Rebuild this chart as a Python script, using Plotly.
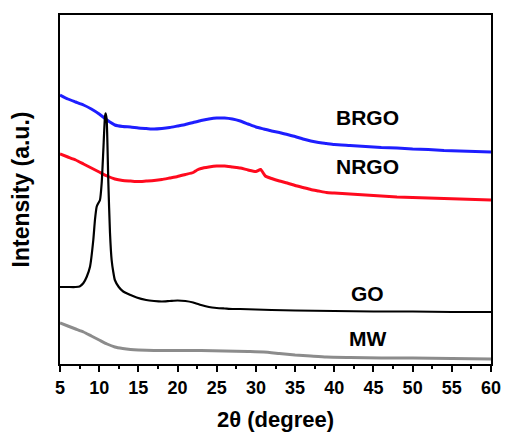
import plotly.graph_objects as go

# XRD patterns (2θ in degrees, intensity in arbitrary units, curves stacked)
brgo_x = [5, 6, 7, 8, 9, 10, 11, 12, 13, 14, 15, 16, 17, 18, 19, 20, 21, 22, 23, 24,
          25, 26, 27, 28, 29, 30, 31, 32, 33, 34, 35, 36, 37, 38, 39, 40, 42, 44, 46,
          48, 50, 52, 54, 56, 58, 60]
brgo_y = [269, 265, 262, 259, 255, 250, 244, 239, 237.5, 237, 236, 235.5, 235, 235.5,
          236.5, 238, 239.5, 241.5, 243.5, 245, 246, 246, 245, 243, 240, 237, 235, 233,
          231.5, 229.5, 227.5, 225, 223, 221.5, 220.5, 219.5, 218.5, 217.5, 216.5, 216,
          215, 214.5, 213.5, 213, 212.5, 212]

nrgo_x = [5, 6, 7, 8, 9, 10, 11, 12, 13, 14, 15, 16, 17, 18, 19, 20, 21, 22, 22.5, 23,
          24, 25, 26, 27, 28, 29, 30, 30.6, 31.2, 32, 33, 34, 35, 36, 37, 38, 39, 40,
          42, 44, 46, 48, 50, 52, 54, 56, 58, 60]
nrgo_y = [210, 207, 204, 200, 196, 192, 188, 185, 183.5, 183, 182.5, 183, 183.5, 184.5,
          186, 187.5, 189.5, 191.5, 194, 195.5, 197, 198, 198, 197, 196, 194, 192.5, 194.5,
          188, 185.5, 183, 181, 178.5, 176.5, 174.5, 173, 171.5, 171, 170, 169, 168, 167,
          166.5, 166, 165.5, 165, 164.5, 164]

go_x = [5, 6, 7, 7.5, 7.97, 8.4, 8.83, 9.25, 9.46, 9.68, 9.9, 10.1, 10.32, 10.53, 10.74,
        10.83, 10.96, 11.17, 11.38, 11.59, 11.8, 12.0, 12.5, 13.07, 14, 14.78, 16, 17,
        18, 19, 20, 21, 22, 23, 24, 25, 26, 27, 28, 30, 32, 35, 40, 45, 50, 55, 60]
go_y = [77, 77, 77, 77.5, 80.7, 87, 97.3, 124, 144, 157.3, 161, 164, 181, 214, 247.3,
        250.7, 244, 181, 131, 104, 92, 84, 77, 72.5, 69, 66.5, 64, 63, 62.5, 63,
        63.5, 63, 61.5, 59, 57, 56, 55.5, 55, 55, 54.5, 54, 53.5, 53, 52.5, 52.5, 52, 52]

mw_x = [5, 6, 7, 8, 9, 10, 11, 12, 13, 14, 15, 17, 20, 23, 26, 29, 31, 33, 35, 37, 39,
        42, 46, 50, 55, 60]
mw_y = [41, 38, 35, 32, 28, 24, 20, 17, 15.5, 14.5, 14, 13.5, 13.5, 13.5, 13, 12.5, 12,
        10.5, 9, 8, 7, 6.5, 6, 6, 5.5, 5]

series_names = ["BRGO", "NRGO", "GO", "MW"]
series_colors = ["#1e1eff", "#ff0a1e", "#000000", "#8c8c8c"]
series_widths = [3, 3, 2.2, 3]
label_x = 44.2
label_y = [247, 198, 71, 26]

x_ticks = [5, 10, 15, 20, 25, 30, 35, 40, 45, 50, 55, 60]

FONT = "Liberation Sans, Arial, sans-serif"

fig = go.Figure()
for name, xs, ys, color, w in zip(series_names,
                                  [brgo_x, nrgo_x, go_x, mw_x],
                                  [brgo_y, nrgo_y, go_y, mw_y],
                                  series_colors, series_widths):
    fig.add_trace(go.Scatter(x=xs, y=ys, mode="lines", name=name,
                             line=dict(color=color, width=w, shape="spline",
                                       smoothing=0.5),
                             showlegend=False))

for name, ly in zip(series_names, label_y):
    fig.add_annotation(x=label_x, y=ly, text="<b>%s</b>" % name, showarrow=False,
                       font=dict(family=FONT, size=21, color="black"),
                       xanchor="center", yanchor="middle")

fig.update_layout(
    width=507, height=432,
    margin=dict(l=60, r=16, t=15, b=68),
    paper_bgcolor="white", plot_bgcolor="white",
    font=dict(family=FONT, color="black"),
)
fig.update_xaxes(
    range=[5, 60], tickvals=x_ticks, ticktext=["<b>%d</b>" % t for t in x_ticks],
    ticks="outside", ticklen=6, tickwidth=2, tickcolor="black",
    minor=dict(dtick=2.5, tick0=5, ticks="outside", ticklen=3, tickwidth=2,
               tickcolor="black", showgrid=False),
    showline=True, linewidth=2, linecolor="black", mirror=True,
    showgrid=False, zeroline=False, automargin=False,
    tickfont=dict(family=FONT, size=18, color="black"),
    title=dict(text="<b>2θ (degree)</b>", font=dict(family=FONT, size=22),
               standoff=16),
)
fig.update_yaxes(
    range=[0, 349], showticklabels=False, ticks="",
    showline=True, linewidth=2, linecolor="black", mirror=True,
    showgrid=False, zeroline=False, automargin=False,
    title=dict(text="<b>Intensity (a.u.)</b>", font=dict(family=FONT, size=23),
               standoff=22),
)

fig.write_html("out.html")
